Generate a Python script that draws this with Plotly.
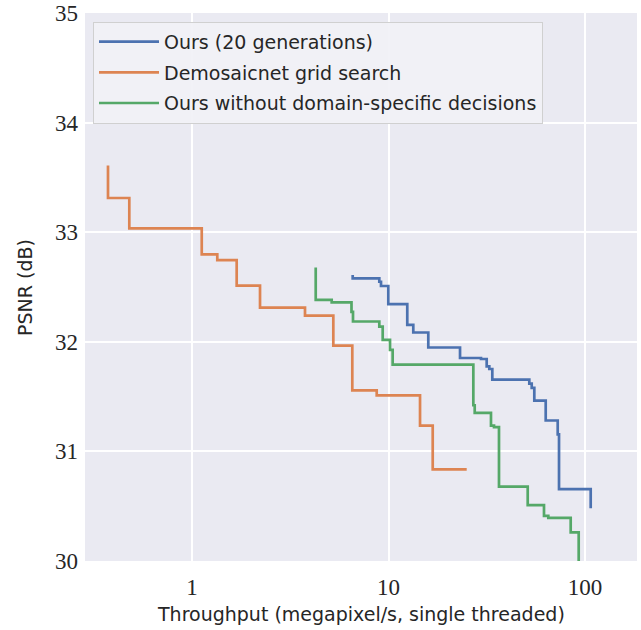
import plotly.graph_objects as go

# Ours (20 generations)
ours_x = [6.573, 6.573, 8.979, 9.159, 9.977, 12.46, 13.37, 15.94, 23.12, 29.56,
          31.60, 32.58, 33.75, 52.06, 53.55, 55.21, 63.1, 72.63, 73.75, 106.9]
ours_y = [32.609, 32.579, 32.548, 32.509, 32.343, 32.155, 32.085, 31.948, 31.852, 31.843,
          31.775, 31.752, 31.655, 31.618, 31.579, 31.464, 31.282, 31.155, 30.655, 30.482]

# Demosaicnet grid search
demo_x = [0.3737, 0.3737, 0.4797, 1.121, 1.345, 1.688, 2.219, 3.759, 5.238, 6.543,
          8.71, 14.47, 16.79, 25.0]
demo_y = [33.609, 33.312, 33.034, 32.797, 32.745, 32.512, 32.312, 32.239, 31.966, 31.557,
          31.512, 31.236, 30.836, 30.836]

# Ours without domain-specific decisions
nods_x = [4.262, 4.262, 5.139, 6.482, 6.597, 8.979, 9.343, 10.18, 10.50, 27.02,
          27.46, 33.23, 34.43, 36.50, 51.10, 61.85, 65.05, 84.57, 92.88]
nods_y = [32.679, 32.382, 32.359, 32.273, 32.185, 32.139, 32.018, 31.927, 31.791, 31.421,
          31.352, 31.236, 31.221, 30.679, 30.509, 30.412, 30.394, 30.261, 29.9]

series = [
    ("Ours (20 generations)", ours_x, ours_y, "#4C72B0"),
    ("Demosaicnet grid search", demo_x, demo_y, "#DD8452"),
    ("Ours without domain-specific decisions", nods_x, nods_y, "#55A868"),
]

x_ticks = [1, 10, 100]
y_ticks = [30, 31, 32, 33, 34, 35]

fig = go.Figure()
for i, (name, xs, ys, col) in enumerate(series):
    fig.add_trace(go.Scatter(x=xs, y=ys, mode="lines", name=name, legendgroup=f"g{i}",
                             line=dict(color=col, width=2.7, shape="hv")))

tick_font = dict(family="Liberation Serif", size=23, color="#262626")
lab_font = dict(family="DejaVu Sans", size=19, color="#262626")

fig.update_layout(
    width=641, height=630,
    margin=dict(l=85, r=4, t=13, b=69, autoexpand=False),
    paper_bgcolor="white",
    plot_bgcolor="#EAEAF2",
    showlegend=True,
    legend=dict(x=0.0145, y=0.984, xanchor="left", yanchor="top",
                bgcolor="rgba(241,241,246,0.92)", bordercolor="#D0D0D0", borderwidth=1,
                font=dict(family="DejaVu Sans", size=19, color="#262626"),
                tracegroupgap=3, itemwidth=60),
    xaxis=dict(type="log", range=[-0.5445, 2.2646], tickvals=x_ticks,
               ticktext=[str(v) for v in x_ticks], automargin=False,
               showgrid=True, gridcolor="white", gridwidth=1.6, zeroline=False,
               showline=False, ticks="", tickfont=tick_font, ticklabelstandoff=10),
    yaxis=dict(range=[30, 35], tickvals=y_ticks, ticktext=[str(v) for v in y_ticks],
               automargin=False,
               showgrid=True, gridcolor="white", gridwidth=1.6, zeroline=False,
               showline=False, ticks="", tickfont=tick_font, ticklabelstandoff=6),
    annotations=[
        dict(text="Throughput (megapixel/s, single threaded)", xref="paper", yref="paper",
             x=0.5, y=-0.0967, xanchor="center", yanchor="middle", showarrow=False, font=lab_font),
        dict(text="PSNR (dB)", xref="paper", yref="paper", textangle=-90,
             x=-0.1087, y=0.5, xanchor="center", yanchor="middle", showarrow=False, font=lab_font),
    ],
)

# remove the browser's default page margin so the figure fills the window exactly
fig.write_html("out.html", config={"displayModeBar": False},
               post_script="document.body.style.margin='0';")
